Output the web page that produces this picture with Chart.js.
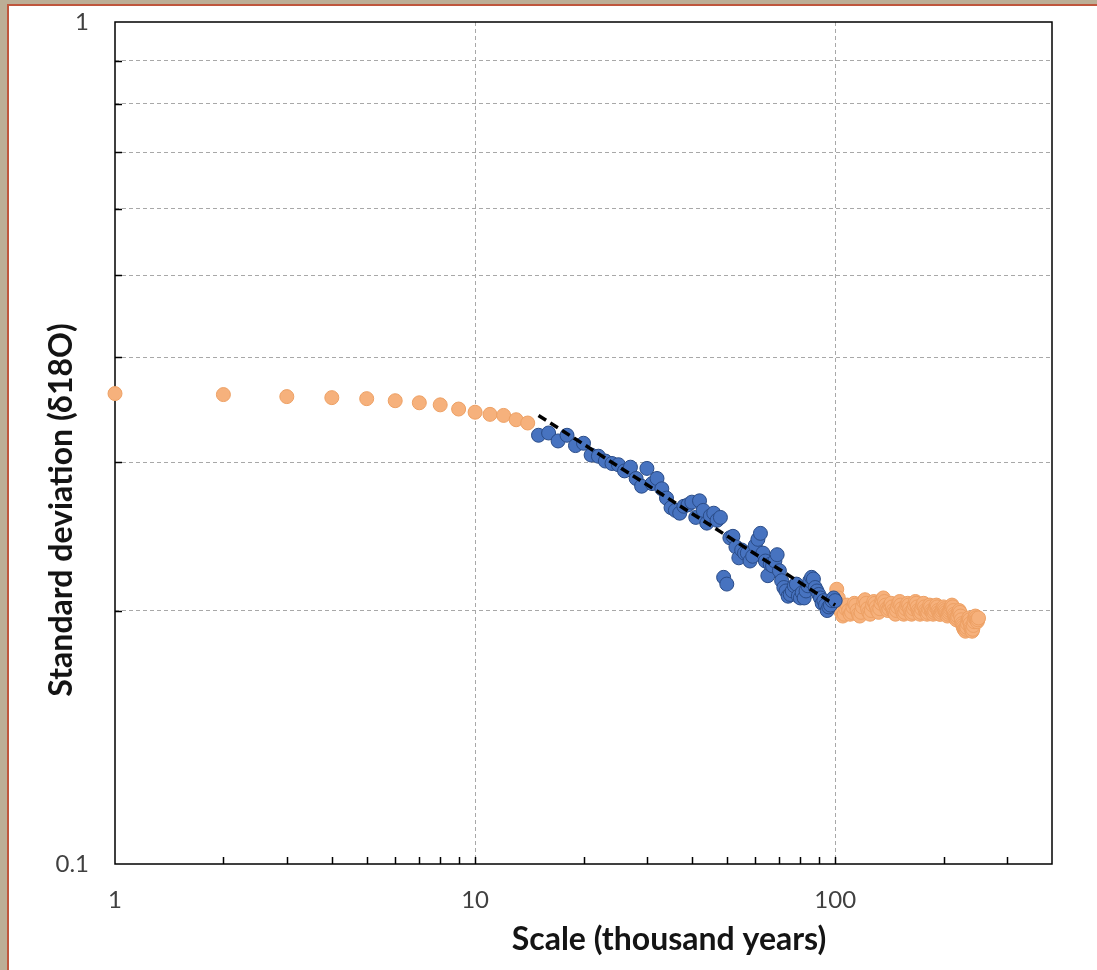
<!DOCTYPE html>
<html><head><meta charset="utf-8">
<script src="https://cdn.jsdelivr.net/npm/chart.js@4.4.1/dist/chart.umd.min.js"></script>
<style>
html,body{margin:0;padding:0;}
body{width:1097px;height:970px;background:#bcae96;position:relative;overflow:hidden;}
#frame{position:absolute;left:7px;top:4px;width:1090px;height:966px;background:#fff;border-left:2px solid #bf563d;border-top:2px solid #bf563d;}
#c{position:absolute;left:0;top:0;}
</style></head><body>
<div id="frame"></div>
<canvas id="c" width="1097" height="970"></canvas>
<script>
// ---------- DATA ----------
const xTitle = 'Scale (thousand years)';
const yTitle = 'Standard deviation (\u03b418O)';

const xTickValues = [1,2,3,4,5,6,7,8,9,10,20,30,40,50,60,70,80,90,100,200,300,400];
const xLabeled = [1,10,100];
const xGridAt = [10,100];
const yTickValues = [0.1,0.2,0.3,0.4,0.5,0.6,0.7,0.8,0.9,1];
const yLabeled = [0.1,1];
const yGridAt = [0.2,0.3,0.4,0.5,0.6,0.7,0.8,0.9];

// orange, short scales
const xLeft = [1,2,3,4,5,6,7,8,9,10,11,12,13,14];
const yLeft = [0.362,0.361,0.359,0.358,0.357,0.355,0.353,0.351,0.347,0.344,0.342,0.341,0.337,0.334];

// blue, fitted range
const xMid = [15,16,17,18,19,20,21,22,23,24,
  25,26,27,28,29,30,31,32,33,34,
  35,36,37,38,39,40,41,42,43,44,
  45,46,47,48,49,50,51,52,53,54,
  55,56,57,58,59,60,61,62,63,64,
  65,66,67,68,69,70,71,72,73,74,
  75,76,77,78,79,80,81,82,83,84,
  85,86,87,88,89,90,91,92,93,94,
  95,96,97,98,99,100];
const yMid = [0.323,0.325,0.318,0.323,0.314,0.316,0.306,0.305,0.301,0.299,
  0.298,0.293,0.296,0.287,0.281,0.295,0.283,0.287,0.279,0.272,
  0.265,0.263,0.261,0.266,0.267,0.269,0.258,0.270,0.263,0.254,
  0.259,0.261,0.256,0.258,0.219,0.215,0.244,0.245,0.238,0.231,
  0.236,0.234,0.234,0.229,0.232,0.239,0.243,0.247,0.234,0.229,
  0.220,0.227,0.226,0.229,0.233,0.223,0.217,0.213,0.211,0.208,
  0.209,0.211,0.214,0.215,0.208,0.207,0.210,0.207,0.211,0.214,
  0.217,0.219,0.218,0.213,0.211,0.209,0.207,0.204,0.2055,0.203,
  0.200,0.202,0.203,0.2055,0.207,0.2055];

// orange, long scales
const xRight = [101,102,103,104,105,106,107,108,109,110,
  111,112,113,114,115,116,117,118,119,120,
  121,122,123,124,125,126,127,128,129,130,
  131,132,133,134,135,136,137,138,139,140,
  141,142,143,144,145,146,147,148,149,150,
  151,152,153,154,155,156,157,158,159,160,
  161,162,163,164,165,166,167,168,169,170,
  171,172,173,174,175,176,177,178,179,180,
  181,182,183,184,185,186,187,188,189,190,
  191,192,193,194,195,196,197,198,199,200,
  201,202,203,204,205,206,207,208,209,210,
  211,212,213,214,215,216,217,218,219,220,
  221,222,223,224,225,226,227,228,229,230,
  231,232,233,234,235,236,237,238,239,240,
  241,242,243,244,245,246,247,248,249,250];
const yRight = [0.212,0.207,0.203,0.199,0.197,0.198,0.201,0.203,0.200,0.198,
  0.199,0.202,0.204,0.203,0.200,0.198,0.197,0.199,0.202,0.205,
  0.206,0.204,0.201,0.199,0.198,0.200,0.203,0.205,0.204,0.202,
  0.200,0.199,0.201,0.204,0.206,0.207,0.205,0.203,0.201,0.200,
  0.201,0.203,0.204,0.202,0.200,0.199,0.198,0.200,0.202,0.204,
  0.205,0.203,0.201,0.199,0.198,0.199,0.201,0.203,0.204,0.203,
  0.201,0.199,0.198,0.199,0.201,0.203,0.205,0.204,0.202,0.200,
  0.199,0.198,0.199,0.201,0.203,0.204,0.202,0.200,0.199,0.198,
  0.199,0.201,0.203,0.202,0.200,0.199,0.198,0.199,0.200,0.202,
  0.203,0.202,0.200,0.199,0.198,0.198,0.199,0.200,0.201,0.202,
  0.201,0.200,0.199,0.198,0.197,0.198,0.199,0.200,0.201,0.202,
  0.203,0.202,0.200,0.198,0.197,0.196,0.195,0.196,0.197,0.199,
  0.200,0.199,0.197,0.195,0.193,0.192,0.191,0.190,0.190,0.189,
  0.190,0.191,0.193,0.195,0.196,0.195,0.193,0.191,0.190,0.189,
  0.190,0.192,0.194,0.196,0.197,0.196,0.195,0.194,0.195,0.196];

// dashed power-law fit
const trendX = [15,100];
const trendY = [0.341,0.203];

// ---------- CHART ----------
const pts = (xs, ys) => xs.map((x, i) => ({x: x, y: ys[i]}));
const ORANGE = '#F6B17C', ORANGE_B = '#EDA064';
const BLUE = '#4773C0', BLUE_B = '#2A4C88';

const decor = {
  id: 'decor',
  beforeDatasetsDraw(chart) {
    const {ctx, chartArea: a, scales: {x, y}} = chart;
    ctx.save();
    ctx.strokeStyle = '#000';
    ctx.lineWidth = 1.5;
    ctx.strokeRect(a.left, a.top, a.right - a.left, a.bottom - a.top);
    ctx.beginPath();
    xTickValues.forEach(v => {
      if (v <= 1 || v >= 400) return;
      const px = Math.round(x.getPixelForValue(v)) + 0.5;
      ctx.moveTo(px, a.bottom); ctx.lineTo(px, a.bottom - 7);
    });
    yTickValues.forEach(v => {
      if (v <= 0.1 || v >= 1) return;
      const py = Math.round(y.getPixelForValue(v)) + 0.5;
      ctx.moveTo(a.left, py); ctx.lineTo(a.left + 7, py);
    });
    ctx.stroke();
    ctx.restore();
  },
  afterDraw(chart) {
    const {ctx} = chart;
    ctx.save();
    ctx.fillStyle = '#141414';
    ctx.font = 'bold 32px Lato';
    ctx.textAlign = 'center';
    ctx.textBaseline = 'alphabetic';
    ctx.fillText(xTitle, 669, 950);
    ctx.translate(72, 510);
    ctx.rotate(-Math.PI / 2);
    ctx.fillText(yTitle, 0, 0);
    ctx.restore();
  }
};

new Chart(document.getElementById('c'), {
  type: 'scatter',
  data: {
    datasets: [
      {type: 'line', data: pts(trendX, trendY), borderColor: '#000', borderWidth: 3.5,
       borderDash: [9, 5], pointRadius: 0, fill: false, order: 0},
      {data: pts(xMid, yMid), backgroundColor: BLUE, borderColor: BLUE_B, borderWidth: 1,
       pointRadius: 7, order: 1, clip: false},
      {data: pts(xRight, yRight), backgroundColor: ORANGE, borderColor: ORANGE_B, borderWidth: 1,
       pointRadius: 7, order: 2, clip: false},
      {data: pts(xLeft, yLeft), backgroundColor: ORANGE, borderColor: ORANGE_B, borderWidth: 1,
       pointRadius: 7, order: 3, clip: false}
    ]
  },
  options: {
    responsive: false,
    animation: false,
    devicePixelRatio: 1,
    layout: {padding: {top: 22, right: 45, left: 0, bottom: 0}},
    plugins: {legend: {display: false}, tooltip: {enabled: false}},
    scales: {
      x: {
        type: 'logarithmic', min: 1, max: 400,
        afterFit: s => { s.height = 106; s.paddingLeft = 0; s.paddingRight = 0; },
        afterBuildTicks: s => { s.ticks = xTickValues.map(v => ({value: v})); },
        ticks: {autoSkip: false, maxRotation: 0, minRotation: 0, padding: 22, color: '#404040',
          font: {family: 'Lato', size: 24},
          callback: v => xLabeled.includes(v) ? String(v) : ''},
        grid: {drawTicks: false, lineWidth: 1,
          color: c => (c.tick && xGridAt.includes(c.tick.value)) ? '#a8a8a8' : 'rgba(0,0,0,0)'},
        border: {display: false, dash: [4, 3]}
      },
      y: {
        type: 'logarithmic', min: 0.1, max: 1,
        afterFit: s => { s.width = 115; s.paddingTop = 0; s.paddingBottom = 0; },
        afterBuildTicks: s => { s.ticks = yTickValues.map(v => ({value: v})); },
        ticks: {autoSkip: false, padding: 26, color: '#404040',
          font: {family: 'Lato', size: 24},
          callback: v => yLabeled.includes(v) ? String(v) : ''},
        grid: {drawTicks: false, lineWidth: 1,
          color: c => (c.tick && yGridAt.includes(c.tick.value)) ? '#a8a8a8' : 'rgba(0,0,0,0)'},
        border: {display: false, dash: [4, 3]}
      }
    }
  },
  plugins: [decor]
});
</script></body></html>
